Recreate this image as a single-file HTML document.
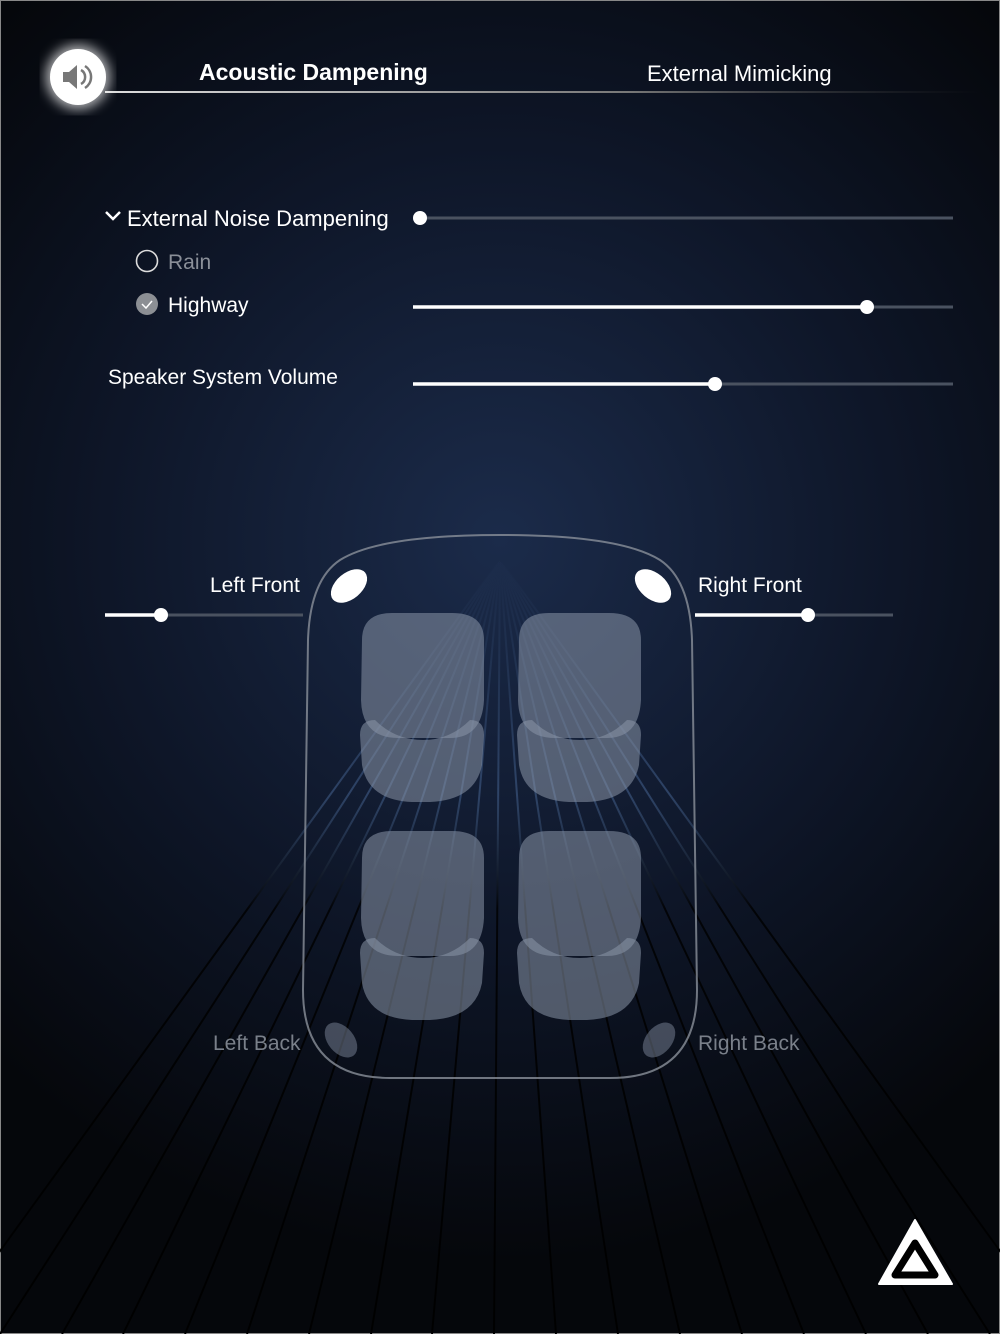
<!DOCTYPE html>
<html><head><meta charset="utf-8"><style>
html,body{margin:0;padding:0;background:#06080d}
svg{display:block}
text{font-family:"Liberation Sans",sans-serif}
</style></head><body>
<svg width="1000" height="1334" viewBox="0 0 1000 1334">
<defs>
<radialGradient id="bg" cx="500" cy="540" r="720" gradientUnits="userSpaceOnUse">
<stop offset="0" stop-color="#1b2b4a"/><stop offset="0.55" stop-color="#0e1628"/><stop offset="1" stop-color="#05070b"/>
</radialGradient>
<linearGradient id="ray" x1="0" y1="560" x2="0" y2="1334" gradientUnits="userSpaceOnUse">
<stop offset="0" stop-color="#3a5680" stop-opacity="0"/><stop offset="0.3" stop-color="#4a6a9a" stop-opacity="0.5"/><stop offset="0.45" stop-color="#000" stop-opacity="0.8"/><stop offset="1" stop-color="#000" stop-opacity="1"/>
</linearGradient>
<linearGradient id="hdr" x1="0" x2="1" y1="0" y2="0"><stop offset="0" stop-color="#ddd"/><stop offset="0.6" stop-color="#777"/><stop offset="1" stop-color="#333" stop-opacity="0"/></linearGradient>
<filter id="glow"><feGaussianBlur stdDeviation="6"/></filter>
</defs>
<rect width="1000" height="1334" fill="url(#bg)" stroke="#888" stroke-width="2"/>
<g id="rays"></g>

<!-- header -->
<rect x="105" y="91" width="875" height="2" fill="url(#hdr)"/>
<circle cx="78" cy="77" r="32" fill="#fff" filter="url(#glow)" opacity="0.7"/>
<circle cx="78" cy="77" r="28" fill="#fff"/>
<path d="M63 72h6l8-7v24l-8-7h-6z" fill="#777"/>
<path d="M81 70a8 8 0 0 1 0 14M85 66a13 13 0 0 1 0 22" stroke="#777" stroke-width="2.5" fill="none"/>
<text x="199" y="80" font-size="23" font-weight="bold" fill="#fff">Acoustic Dampening</text>
<text x="647" y="81" font-size="22" fill="#fff">External Mimicking</text>

<!-- controls -->
<path d="M106 212l7 7 7-7" stroke="#fff" stroke-width="2.5" fill="none"/>
<text x="127" y="226" font-size="22" fill="#fff">External Noise Dampening</text>
<line x1="420" y1="218" x2="953" y2="218" stroke="#4a5260" stroke-width="3"/>
<circle cx="420" cy="218" r="7" fill="#fff"/>
<circle cx="147" cy="261" r="10.5" fill="none" stroke="#ddd" stroke-width="1.6"/>
<text x="168" y="269" font-size="21" fill="#8a8f98">Rain</text>
<circle cx="147" cy="304" r="11" fill="#8c8f94"/>
<path d="M142 304l4 4 6-7" stroke="#fff" stroke-width="1.5" fill="none"/>
<text x="168" y="312" font-size="21" fill="#fff">Highway</text>
<line x1="413" y1="307" x2="953" y2="307" stroke="#4a5260" stroke-width="3"/>
<line x1="413" y1="307" x2="867" y2="307" stroke="#fff" stroke-width="3.5"/>
<circle cx="867" cy="307" r="7" fill="#fff"/>
<text x="108" y="384" font-size="21" fill="#fff">Speaker System Volume</text>
<line x1="413" y1="384" x2="953" y2="384" stroke="#4a5260" stroke-width="3"/>
<line x1="413" y1="384" x2="715" y2="384" stroke="#fff" stroke-width="3.5"/>
<circle cx="715" cy="384" r="7" fill="#fff"/>

<!-- car -->
<path d="M500 535 Q620 535 660 560 Q690 580 692 640 L697 990 Q697 1078 610 1078 L390 1078 Q303 1078 303 990 L308 640 Q310 580 340 560 Q380 535 500 535Z" fill="none" stroke="#8a909a" stroke-width="2" opacity="0.8"/>
<g fill="#8a95a8" fill-opacity="0.55">
<g id="seat"><path d="M362 640 Q362 613 392 613 L452 613 Q484 613 484 640 L484 700 Q482 738 450 738 L398 738 Q362 738 361 700Z"/><path d="M360 735 Q360 720 375 720 Q395 740 423 740 Q450 740 470 720 Q484 720 484 735 L482 765 Q475 800 430 802 L412 802 Q368 800 362 765Z"/></g>
<use href="#seat" x="157"/><use href="#seat" y="218"/><use href="#seat" x="157" y="218"/>
</g>
<ellipse cx="349" cy="586" rx="21" ry="13" transform="rotate(-40 349 586)" fill="#fff"/>
<ellipse cx="653" cy="586" rx="21" ry="13" transform="rotate(40 653 586)" fill="#fff"/>
<ellipse cx="341" cy="1040" rx="20" ry="13" transform="rotate(50 341 1040)" fill="#8a95a8" fill-opacity="0.45"/>
<ellipse cx="659" cy="1040" rx="20" ry="13" transform="rotate(-50 659 1040)" fill="#8a95a8" fill-opacity="0.45"/>

<text x="210" y="592" font-size="21" fill="#fff">Left Front</text>
<line x1="105" y1="615" x2="303" y2="615" stroke="#4a5260" stroke-width="3"/>
<line x1="105" y1="615" x2="161" y2="615" stroke="#fff" stroke-width="3.5"/>
<circle cx="161" cy="615" r="7" fill="#fff"/>
<text x="698" y="592" font-size="21" fill="#fff">Right Front</text>
<line x1="695" y1="615" x2="893" y2="615" stroke="#4a5260" stroke-width="3"/>
<line x1="695" y1="615" x2="808" y2="615" stroke="#fff" stroke-width="3.5"/>
<circle cx="808" cy="615" r="7" fill="#fff"/>
<text x="213" y="1050" font-size="21" fill="#7a808a">Left Back</text>
<text x="698" y="1050" font-size="21" fill="#7a808a">Right Back</text>

<g>
<path d="M915 1220 L952 1284 L879 1284Z" fill="#fff" stroke="#fff" stroke-width="2" stroke-linejoin="round"/>
<path d="M915 1243 L935 1275 L895 1275Z" fill="none" stroke="#000" stroke-width="7" stroke-linejoin="round"/>
</g>
</svg>
<script>
const rayBottoms=[-60,0,62,123,185,247,309,371,432,494,556,618,680,742,804,866,928,990,1060];
const g=document.getElementById('rays');
rayBottoms.forEach(x=>{
 const l=document.createElementNS('http://www.w3.org/2000/svg','line');
 
 
 l.setAttribute('x1',500);l.setAttribute('y1',560);
 l.setAttribute('x2',x);l.setAttribute('y2',1334);
 l.setAttribute('stroke','url(#ray)');l.setAttribute('stroke-width','2');
 g.appendChild(l);
});
</script>
</body></html>
